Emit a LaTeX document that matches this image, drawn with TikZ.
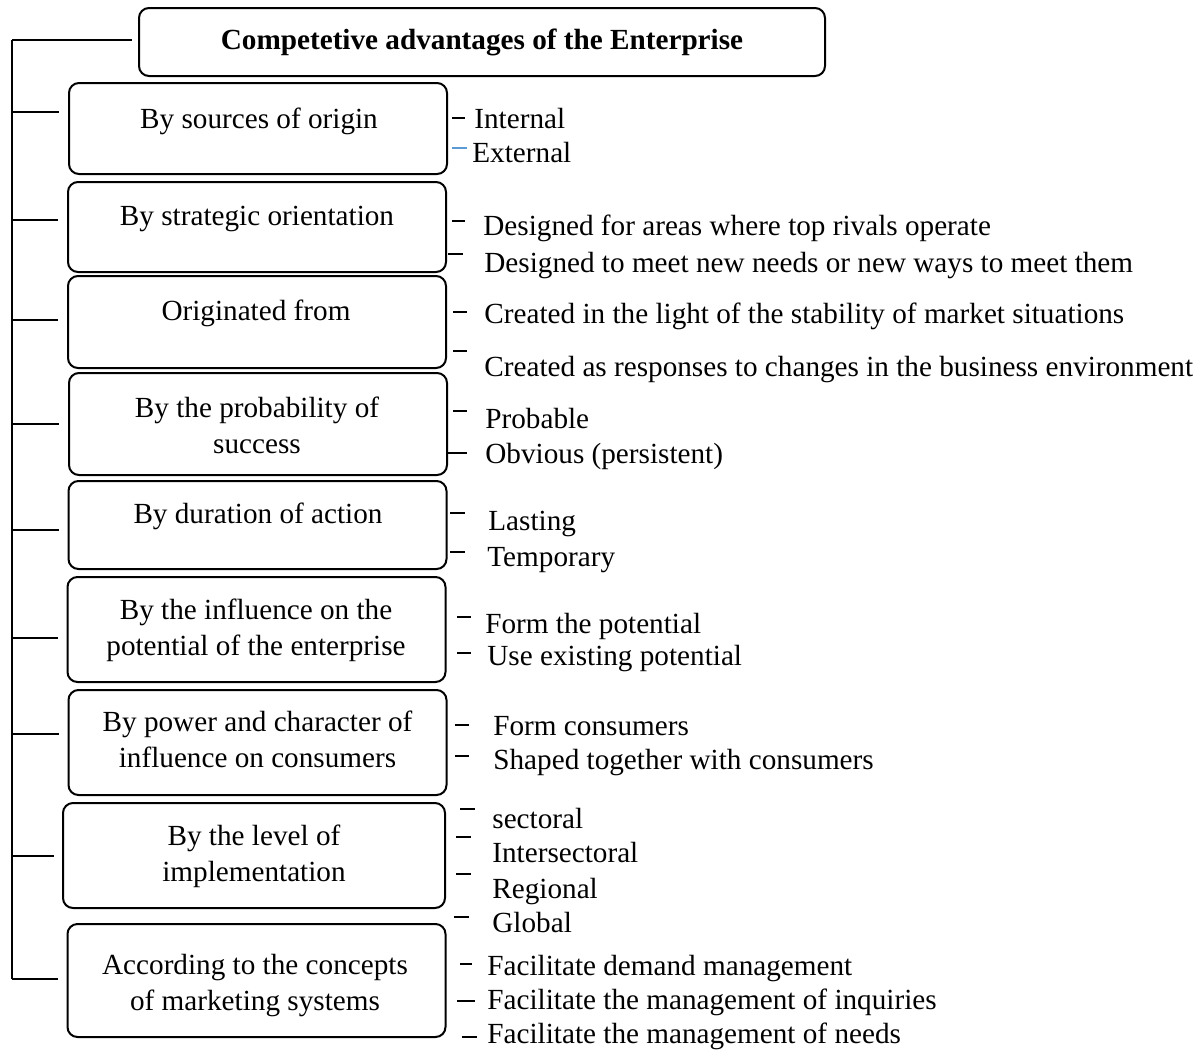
\documentclass[tikz,border=0pt]{standalone}
\usepackage{fontspec}
\setmainfont{Liberation Serif}
\usetikzlibrary{calc}
\definecolor{tickblue}{HTML}{5B9BD5}
\tikzset{
  every node/.style={font=\fontsize{14.6}{18}\selectfont, inner sep=0pt},
  catbox/.style={draw, line width=1pt, rounded corners=5pt, minimum width=189pt},
  cattext/.style={align=center},
  itemtext/.style={anchor=base west},
  bus/.style={line width=0.75pt},
  tick/.style={line width=1pt},
}
% short dash in front of a list entry: x1, x2, y
\newcommand\entrytick[4][black]{\draw[tick,#1] (#2,#4) -- (#3,#4);}
\begin{document}
\begin{tikzpicture}[x=0.5pt, y=-0.5pt]
\useasboundingbox (0,0) rectangle (1204,1055);

% title
\node[catbox, minimum width=343pt, minimum height=34pt, font=\fontsize{14.6}{18}\selectfont\bfseries] (title) at (482,42)
  {\strut Competetive advantages of the Enterprise};

% classification boxes
\node[catbox, minimum height=45.5pt] (c1) at (258,128.5) {};
\node[catbox, minimum height=45pt]   (c2) at (257,227) {};
\node[catbox, minimum height=46pt]   (c3) at (257,322) {};
\node[catbox, minimum height=51pt]   (c4) at (258,424) {};
\node[catbox, minimum height=44pt]   (c5) at (257.5,525) {};
\node[catbox, minimum height=52.5pt] (c6) at (256.5,629.5) {};
\node[catbox, minimum height=52.5pt] (c7) at (257.5,742.5) {};
\node[catbox, minimum height=52.5pt, minimum width=191pt] (c8) at (254,855.5) {};
\node[catbox, minimum height=56.5pt] (c9) at (256.5,980.5) {};

\node[cattext] (c1t) at (259,121) {\strut By sources of origin};
\node[cattext] (c2t) at (257,218) {\strut By strategic orientation};
\node[cattext] (c3t) at (256,313) {\strut Originated from};
\node[cattext] (c4t) at (257,427.8) {\strut By the probability of\\\strut success};
\node[cattext] (c5t) at (258,516) {\strut By duration of action};
\node[cattext] (c6t) at (256,629.8) {\strut By the influence on the\\\strut potential of the enterprise};
\node[cattext] (c7t) at (257.5,742) {\strut By power and character of\\\strut influence on consumers};
\node[cattext] (c8t) at (254,856) {\strut By the level of\\\strut implementation};
\node[cattext] (c9t) at (255,985) {\strut According to the concepts\\\strut of marketing systems};

% left bus with its branches
\coordinate (busx) at (12,0);
\coordinate (k0) at ($(title.west)+(-6,-2)$);
\coordinate (k1) at ($(c1.west)+(-9,-16.5)$);
\coordinate (k2) at ($(c2.west)+(-9,-7)$);
\coordinate (k3) at ($(c3.west)+(-9,-2)$);
\coordinate (k4) at ($(c4.west)+(-9,0)$);
\coordinate (k5) at ($(c5.west)+(-9,5)$);
\coordinate (k6) at ($(c6.west)+(-9,8.5)$);
\coordinate (k7) at ($(c7.west)+(-9,-8.5)$);
\coordinate (k8) at ($(c8.west)+(-8,0.5)$);
\coordinate (k9) at ($(c9.west)+(-9,-1.5)$);
\draw[bus] (busx |- k0) -- (busx |- k9);
\foreach \k in {0,...,9} {\draw[bus] (busx |- k\k) -- (k\k);}

% list entries
\node[itemtext] (i11) at (474,128) {Internal};
\node[itemtext] (i12) at (472,162) {External};
\node[itemtext] (i21) at (483,235) {Designed for areas where top rivals operate};
\node[itemtext] (i22) at (484,272) {Designed to meet new needs or new ways to meet them};
\node[itemtext] (i31) at (484,323) {Created in the light of the stability of market situations};
\node[itemtext] (i32) at (484,376) {Created as responses to changes in the business environment};
\node[itemtext] (i41) at (485,428) {Probable};
\node[itemtext] (i42) at (485,463) {Obvious (persistent)};
\node[itemtext] (i51) at (488,530) {Lasting};
\node[itemtext] (i52) at (487,566) {Temporary};
\node[itemtext] (i61) at (485,633) {Form the potential};
\node[itemtext] (i62) at (487,665) {Use existing potential};
\node[itemtext] (i71) at (493,735) {Form consumers};
\node[itemtext] (i72) at (493,769) {Shaped together with consumers};
\node[itemtext] (i81) at (492,828) {sectoral};
\node[itemtext] (i82) at (492,862) {Intersectoral};
\node[itemtext] (i83) at (492,898) {Regional};
\node[itemtext] (i84) at (492,932) {Global};
\node[itemtext] (i91) at (487,975) {Facilitate demand management};
\node[itemtext] (i92) at (487,1009) {Facilitate the management of inquiries};
\node[itemtext] (i93) at (487,1043) {Facilitate the management of needs};

% dashes in front of the entries
\entrytick{452}{465}{118}
\entrytick[tickblue]{452}{467}{148}
\entrytick{452}{465}{221}
\entrytick{448}{463}{254}
\entrytick{453}{467}{312}
\entrytick{453}{467}{351}
\entrytick{453}{467}{411}
\entrytick{446}{467}{453}
\entrytick{450}{465}{513}
\entrytick{450}{465}{552}
\entrytick{457}{471}{617}
\entrytick{457}{471}{653}
\entrytick{455}{469}{725}
\entrytick{455}{469}{756}
\entrytick{460}{475}{809}
\entrytick{456}{471}{837}
\entrytick{456}{471}{874}
\entrytick{454}{469}{917}
\entrytick{460}{472}{964}
\entrytick{457}{475}{1001}
\entrytick{462}{477}{1037}
\end{tikzpicture}
\end{document}
